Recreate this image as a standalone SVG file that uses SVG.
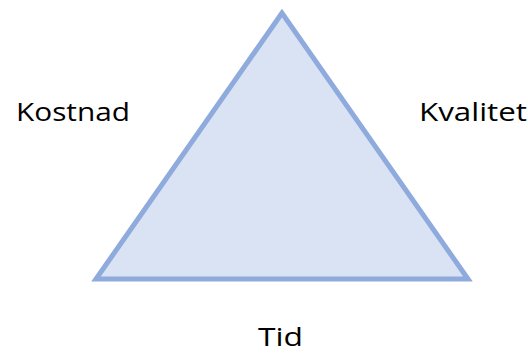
<svg xmlns="http://www.w3.org/2000/svg" width="528" height="354" viewBox="0 0 528 354">
<style>
.lbl{font-family:"Open Sans","Liberation Sans",sans-serif;font-size:26px;fill:#000}
.tri{fill:#DAE3F3;stroke:#8FAADC;stroke-width:5;stroke-linejoin:miter}
</style>
<rect width="528" height="354" fill="#fff"/>
<g id="triangle"><polygon class="tri" points="282,13 96,279 468,279"/></g>
<g id="connectors"/>
<g id="kostnad"><text class="lbl" x="16" y="121" textLength="114" lengthAdjust="spacingAndGlyphs">Kostnad</text></g>
<g id="kvalitet"><text class="lbl" x="419" y="121" textLength="108" lengthAdjust="spacingAndGlyphs">Kvalitet</text></g>
<g id="tid"><text class="lbl" x="258" y="346" textLength="45" lengthAdjust="spacingAndGlyphs">Tid</text></g>
</svg>
